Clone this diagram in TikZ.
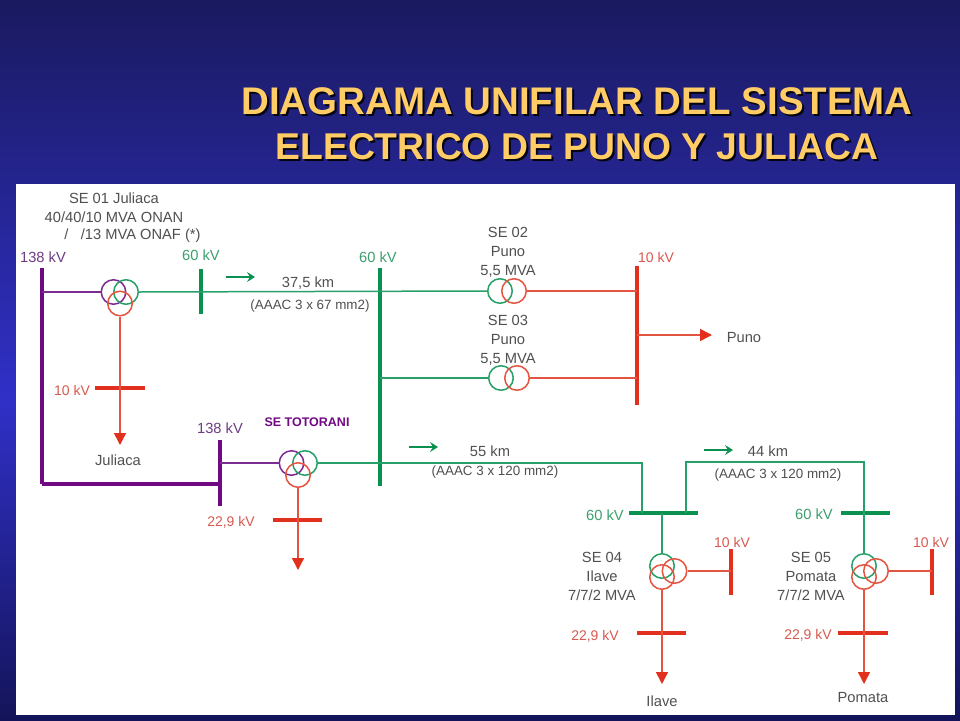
\documentclass[tikz,border=0pt]{standalone}
\usepackage{fontspec}
\setmainfont{Liberation Sans}
\usetikzlibrary{arrows.meta, positioning, calc}
\definecolor{slidetop}{RGB}{26,26,96}
\definecolor{slidemid}{RGB}{48,48,200}
\definecolor{slidelow}{RGB}{20,20,90}
\definecolor{titleyel}{RGB}{255,204,102}
\definecolor{busgreen}{RGB}{10,145,80}
\definecolor{busred}{RGB}{226,48,30}
\definecolor{buspurple}{RGB}{112,10,130}
\definecolor{wiregreen}{RGB}{40,160,105}
\definecolor{wirered}{RGB}{228,85,65}
\definecolor{wirepurple}{RGB}{125,45,145}
\definecolor{lblgreen}{RGB}{60,160,110}
\definecolor{lblred}{RGB}{215,90,80}
\definecolor{lblpurple}{RGB}{110,60,130}
\definecolor{lblgray}{RGB}{80,80,80}
\newcommand{\titletext}{DIAGRAMA UNIFILAR DEL SISTEMA\\{\fontsize{37.3}{45}\selectfont ELECTRICO DE PUNO Y JULIACA}}

\begin{document}
\begin{tikzpicture}[
    x=1pt, y=-1pt,
    vbus/.style={rectangle, inner sep=0pt, minimum width=4pt},
    hbus/.style={rectangle, inner sep=0pt, minimum height=4pt},
    coil/.style={circle, inner sep=0pt, minimum size=24.5pt, line width=1.5pt},
    wire/.style={line width=1.5pt},
    arw/.style={wire, color=wirered, -{Triangle[length=12pt,width=12pt,color=busred]}},
    flow/.style={wire, color=busgreen, -{Stealth[length=8pt,width=10pt,inset=3pt]}},
    lbl/.style={font=\fontsize{14.7}{17}\selectfont, text=lblgray, inner sep=0pt, align=center},
    cbl/.style={font=\fontsize{13.4}{16}\selectfont, text=lblgray, inner sep=0pt},
    lblg/.style={lbl, text=lblgreen},
    lblr/.style={lbl, text=lblred, font=\fontsize{14}{17}\selectfont},
    lblp/.style={lbl, text=lblpurple},
    ttl/.style={font=\fontsize{38.5}{45}\selectfont\bfseries, align=center, inner sep=0pt}
  ]
    \useasboundingbox (0,0) rectangle (960,720);
    \shade[top color=slidetop, bottom color=slidemid] (0,0) rectangle (960,400);
    \shade[top color=slidemid, bottom color=slidelow] (0,400) rectangle (960,720);
    \fill[white] (16,184) rectangle (955,715);

    \node[ttl, text=black!85!slidetop] (titleshadow) at (579,126) {\titletext};
    \node[ttl, text=titleyel]          (title)       at (577,124) {\titletext};

    % barras
    \node[vbus, fill=buspurple, minimum height=216pt] (pa)  at (42,376)  {};
    \node[vbus, fill=buspurple, minimum height=66pt]  (pb)  at (220,473) {};
    \node[vbus, fill=busgreen,  minimum height=45pt]  (ga)  at (201,291.5) {};
    \node[vbus, fill=busgreen,  minimum height=218pt] (gb)  at (380,377) {};
    \node[vbus, fill=busred,    minimum height=139pt] (ra)  at (637,335.5) {};
    \node[hbus, fill=busred,    minimum width=50pt]   (rb)  at (120,388) {};
    \node[hbus, fill=busred,    minimum width=49pt]   (rc)  at (297.5,519.5) {};
    \node[hbus, fill=busgreen,  minimum width=69pt]   (gc)  at (663.5,513) {};
    \node[hbus, fill=busgreen,  minimum width=49pt]   (gd)  at (865.5,513) {};
    \node[vbus, fill=busred,    minimum height=46pt]  (rd)  at (731,572) {};
    \node[vbus, fill=busred,    minimum height=46pt]  (re)  at (932,572) {};
    \node[hbus, fill=busred,    minimum width=49pt]   (rf)  at (661.5,633) {};
    \node[hbus, fill=busred,    minimum width=50pt]   (rg)  at (863,633) {};

    % transformadores
    \node[coil, draw=wirepurple] (t1p) at (113.5,292) {};
    \node[coil, draw=wiregreen]  (t1g) at (126,292) {};
    \node[coil, draw=wirered]    (t1r) at (120,303.5) {};
    \node[coil, draw=wiregreen]  (t2g) at (500,291) {};
    \node[coil, draw=wirered]    (t2r) at (514,291) {};
    \node[coil, draw=wiregreen]  (t3g) at (501,378) {};
    \node[coil, draw=wirered]    (t3r) at (517,378) {};
    \node[coil, draw=wirepurple] (t6p) at (291.5,463) {};
    \node[coil, draw=wiregreen]  (t6g) at (305,463) {};
    \node[coil, draw=wirered]    (t6r) at (298,475) {};
    \node[coil, draw=wiregreen]  (t4g) at (662,566) {};
    \node[coil, draw=wirered]    (t4l) at (662,577) {};
    \node[coil, draw=wirered]    (t4r) at (674.5,571) {};
    \node[coil, draw=wiregreen]  (t5g) at (864,566) {};
    \node[coil, draw=wirered]    (t5l) at (864,577) {};
    \node[coil, draw=wirered]    (t5r) at (876,571) {};

    % extremos libres
    \coordinate (loadj) at (120,445);
    \coordinate (loadt) at (298,570);
    \coordinate (loadp) at (712,335);
    \coordinate (loadi) at (662,684);
    \coordinate (loado) at (864,684);
    \coordinate (lineup) at (864,462);
    \coordinate (fa) at (226,277);
    \coordinate (fb) at (255,277);
    \coordinate (fc) at (409,447);
    \coordinate (fd) at (438,447);
    \coordinate (fe) at (704,450);
    \coordinate (ff) at (733,450);

    \draw[wire, wirepurple] (pa |- t1p.west) -- (t1p.west);
    \draw[wire, wiregreen]  (t1g.east) -- (t2g.west);
    \draw[arw] (t1r.south) -- (loadj);
    \draw[wire, wiregreen]  (gb |- t3g.west) -- (t3g.west);
    \draw[wire, wirered]    (t2r.east) -- (ra |- t2r.east);
    \draw[wire, wirered]    (t3r.east) -- (ra |- t3r.east);
    \draw[arw] (ra |- loadp) -- (loadp);
    \draw[wire, wirepurple] (pb |- t6p.west) -- (t6p.west);
    \draw[buspurple, line width=3.5pt] (42,484) -- (pb |- 0,484);
    \draw[wire, wiregreen]  (t6g.east) -| (642,513);
    \draw[arw] (t6r.south) -- (loadt);
    \draw[wire, wiregreen]  (686,513) |- (lineup) -- (t5g.north);
    \draw[wire, wiregreen]  (gc.center -| t4g) -- (t4g.north);
    \draw[wire, wirered]    (t4r.east) -- (rd |- t4r.east);
    \draw[wire, wirered]    (t5r.east) -- (re |- t5r.east);
    \draw[arw] (t4l.south) -- (loadi);
    \draw[arw] (t5l.south) -- (loado);
    \draw[flow] (fa) -- (fb);
    \draw[flow] (fc) -- (fd);
    \draw[flow] (fe) -- (ff);

    % textos
    \node[lbl] (se1a) at (114,198)   {SE 01 Juliaca};
    \node[lbl] (se1b) at (114,217.5) {40/40/10 MVA ONAN};
    \node[lbl] (se1c) at (132.5,236) {/\ \ \ /13 MVA ONAF (*)};
    \node[lblp] (kva) at (43,257)  {138 kV};
    \node[lblg] (kvb) at (201,255) {60 kV};
    \node[lblg] (kvc) at (378,257) {60 kV};
    \node[lbl]  (kma) at (308,283) {37,5 km};
    \node[cbl]  (cba) at (310,306) {(AAAC 3 x 67 mm2)};
    \node[lbl]  (se2) at (508,252) {SE 02\\[2pt]Puno\\[2pt]5,5 MVA};
    \node[lbl]  (se3) at (508,340) {SE 03\\[2pt]Puno\\[2pt]5,5 MVA};
    \node[lblr] (kvd) at (656,257) {10 kV};
    \node[lbl]  (lpu) at (744,338) {Puno};
    \node[lblr] (kve) at (72,390)  {10 kV};
    \node[lbl]  (lju) at (118,460) {Juliaca};
    \node[lblp] (kvf) at (220,428) {138 kV};
    \node[lbl, text=buspurple, font=\fontsize{12.5}{15}\selectfont\bfseries] (sto) at (307,422) {SE TOTORANI};
    \node[lblr] (kvg) at (231,522) {22,9 kV};
    \node[lbl]  (kmb) at (490,451) {55 km};
    \node[cbl]  (cbb) at (495,472) {(AAAC 3 x 120 mm2)};
    \node[lbl]  (kmc) at (768,451) {44 km};
    \node[cbl]  (cbc) at (778,475) {(AAAC 3 x 120 mm2)};
    \node[lblg] (kvh) at (605,515) {60 kV};
    \node[lblg] (kvi) at (814,514) {60 kV};
    \node[lblr] (kvj) at (732,542) {10 kV};
    \node[lblr] (kvk) at (931,542) {10 kV};
    \node[lbl]  (se4) at (602,576) {SE 04\\[2pt]Ilave\\[2pt]7/7/2 MVA};
    \node[lbl]  (se5) at (811,576) {SE 05\\[2pt]Pomata\\[2pt]7/7/2 MVA};
    \node[lblr] (kvl) at (595,636) {22,9 kV};
    \node[lblr] (kvm) at (808,635) {22,9 kV};
    \node[lbl]  (lil) at (662,701) {Ilave};
    \node[lbl]  (lpo) at (863,698) {Pomata};
\end{tikzpicture}
\end{document}
